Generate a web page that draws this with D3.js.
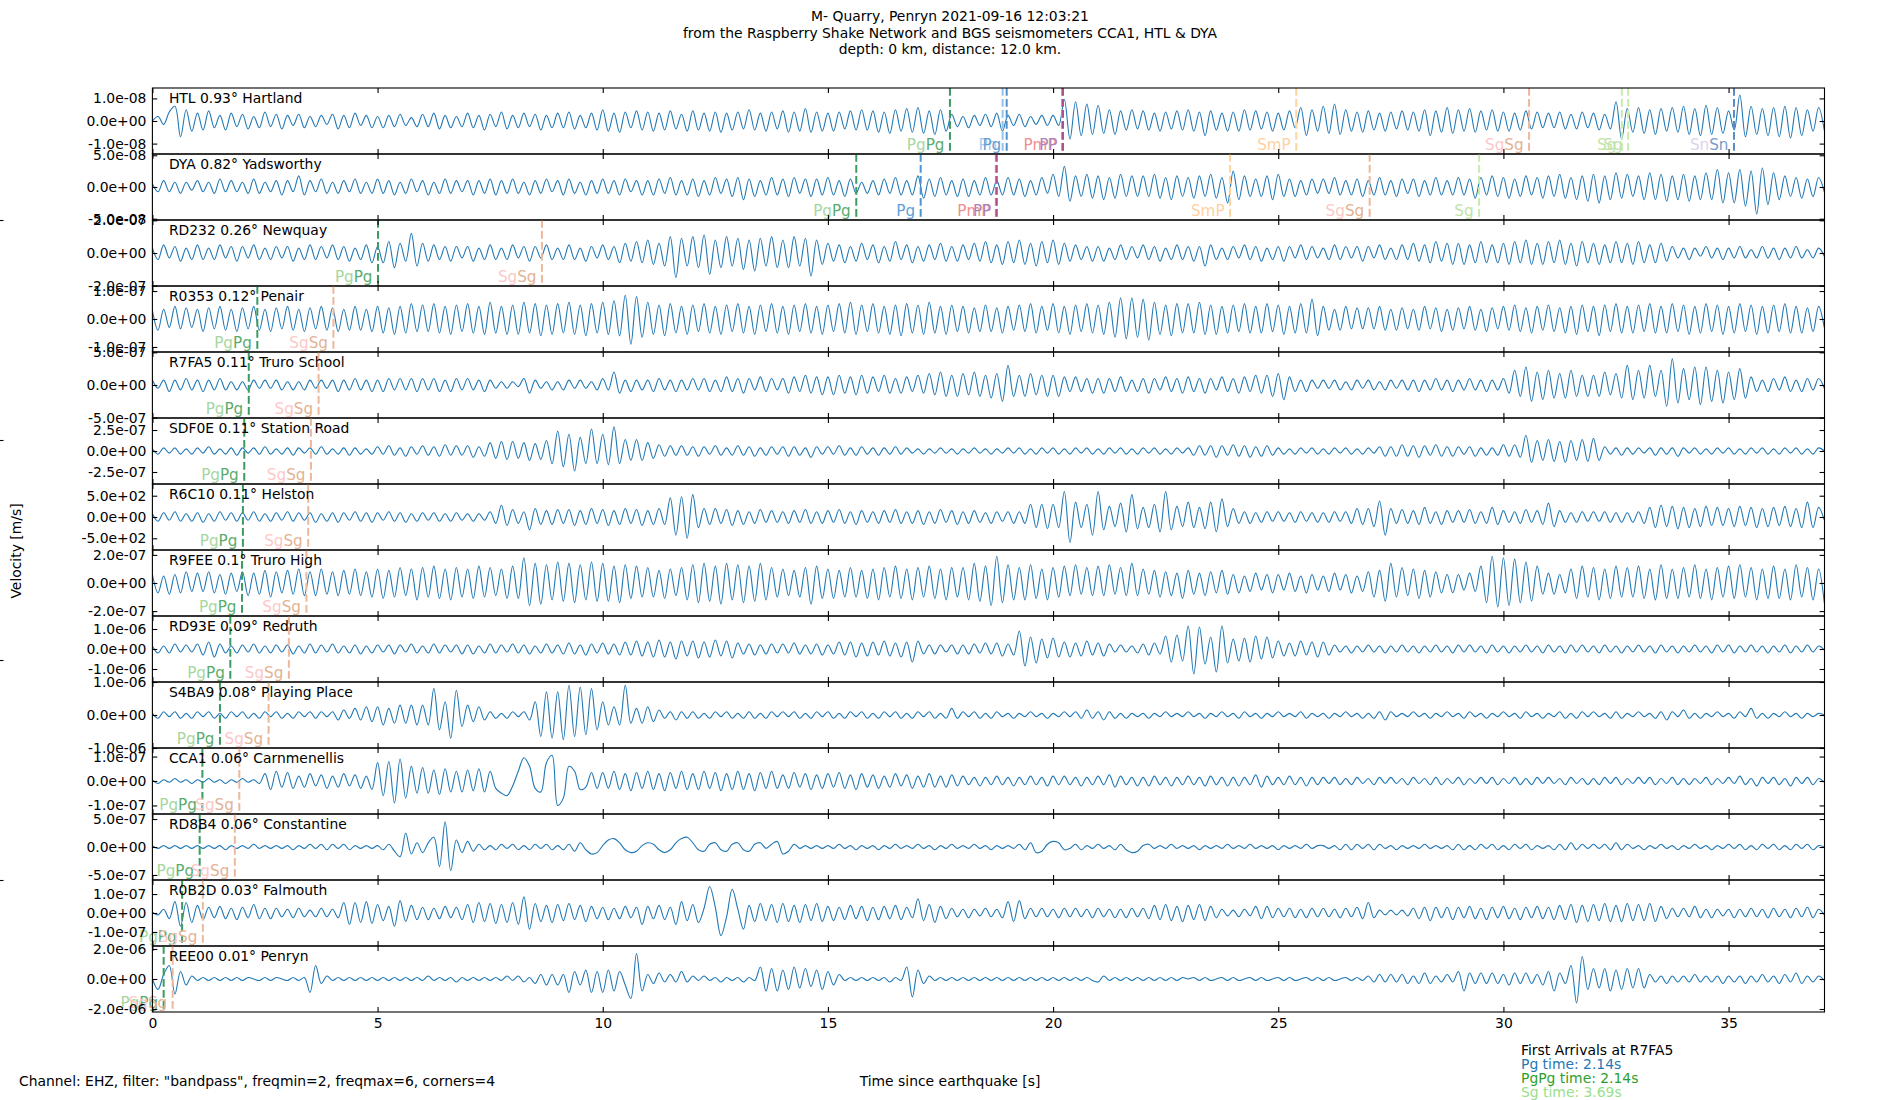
<!DOCTYPE html>
<html><head><meta charset="utf-8">
<script src="https://cdn.jsdelivr.net/npm/d3@7/dist/d3.min.js"></script>
<style>body{margin:0;background:#fff} text{font-family:"DejaVu Sans",sans-serif}</style>
</head><body><svg id="c" width="1900" height="1100"></svg>
<script>
// ---------------- DATA ----------------
const stations = ["HTL 0.93° Hartland","DYA 0.82° Yadsworthy","RD232 0.26° Newquay","R0353 0.12° Penair","R7FA5 0.11° Truro School","SDF0E 0.11° Station Road","R6C10 0.11° Helston","R9FEE 0.1° Truro High","RD93E 0.09° Redruth","S4BA9 0.08° Playing Place","CCA1 0.06° Carnmenellis","RD8B4 0.06° Constantine","R0B2D 0.03° Falmouth","REE00 0.01° Penryn"];
const tickVals = [1e-8,5e-8,2e-7,1e-7,5e-7,2.5e-7,5e2,2e-7,1e-6,1e-6,1e-7,5e-7,1e-7,2e-6];
const yLimits = [1.46e-8,5.2e-8,2.02e-7,1.18e-7,5.05e-7,3.93e-7,775,2.35e-7,1.65e-6,1.0e-6,1.35e-7,5.9e-7,1.74e-7,2.2e-6];
// trace samples are stored as integer counts; velocity = count * countUnit
const countUnit = [5e-10,2.5e-9,1e-8,5e-9,2.5e-8,1.25e-8,25,1e-8,5e-8,5e-8,5e-9,2.5e-8,5e-9,1e-7];
const sampleInterval = 0.125; // s
const xMax = 37.13;
const xTickVals = [0,5,10,15,20,25,30,35];

const trHTL = [0,4,-3,8,13,-14,10,-9, 7,-8,9,-6,5,-8,7,-5, 6,-7,4,-6,8,-5,6,-7, 5,-4,6,-6,4,-5,5,-3, 6,-7,5,-6,7,-4,5,-6, 4,-6,5,-5,6,-4,3,-5, 6,-5,7,-7,5,-6,4,-5, 7,-6,5,-8,6,-5,8,-7, 5,-6,7,-5,6,-8,5,-6, 7,-6,8,-7,5,-6,7,-8,
 10,-9,7,-10,8,-6,9,-8, 8,-9,7,-8,9,-7,6,-9, 9,-8,7,-9,8,-10,7,-8, 8,-7,10,-8,7,-9,8,-7, 9,-10,8,-9,11,-10,8,-9, 7,-9,8,-7,9,-8,10,-8, 9,-10,8,-11,10,-9,11,-10, 12,-11,9,-12,10,-9,6,-5, 4,-6,5,-4,6,-5,7,-9, 5,-4,6,-5,4,-3,5,-4,
 5,-4,19,-16,17,-13,15,-12, 14,-11,10,-12,9,-8,10,-7, 9,-8,7,-9,8,-7,9,-8, 10,-9,8,-13,9,-8,7,-9, 8,-9,10,-8,9,-7,8,-9, 7,-8,9,-6,12,-13,10,-9, 13,-11,15,-12,10,-9,8,-10, 9,-8,7,-9,8,-7,9,-8, 8,-9,10,-13,9,-10,12,-11, 10,-9,11,-10,9,-8,10,-9,
 8,-9,7,-8,9,-7,8,-6, 7,-6,8,-7,6,-7,8,-6, 7,-8,6,-7,17,-16,11,-10, 12,-11,10,-12,11,-9,12,-10, 13,-12,11,-13,14,-12,12,-11, 9,-8,23,-14,13,-12,11,-13, 12,-14,13,-15,12,-13,10,-9, 12,-8];
const trDYA = [2,-3,4,-3,3,-4,3,-2, 4,-3,3,-4,5,-3,4,-3, 3,-4,5,-4,3,-3,4,-5, 4,-3,7,-5,4,-3,5,-4, 3,-4,4,-3,5,-4,3,-4, 5,-4,4,-5,3,-4,5,-3, 4,-5,3,-4,5,-4,4,-3, 4,-5,4,-4,5,-5,4,-4, 5,-4,3,-5,4,-4,5,-3, 4,-5,5,-4,3,-5,4,-4,
 5,-4,4,-5,5,-3,4,-5, 4,-5,5,-4,6,-5,4,-5, 5,-6,4,-5,6,-4,5,-6, 6,-8,5,-6,4,-5,6,-5, 5,-6,6,-4,5,-6,5,-5, 6,-5,4,-6,5,-4,3,-4, 4,-5,5,-4,6,-5,4,-5, 7,-7,5,-6,6,-5,4,-6, 5,-6,4,-5,6,-5,4,-5, 6,-5,5,-6,4,-5,6,-4,
 8,-6,13,-9,7,-6,8,-7, 7,-8,6,-7,8,-6,7,-6, 7,-6,8,-7,6,-8,7,-6, 6,-7,7,-6,8,-7,6,-10, 10,-8,7,-6,5,-6,7,-8, 8,-6,5,-6,4,-5,5,-4, 5,-4,6,-5,4,-5,5,-6, 4,-5,6,-5,4,-6,5,-4, 5,-6,4,-5,6,-5,4,-5, 6,-5,5,-7,6,-5,7,-6,
 6,-7,5,-6,7,-5,6,-7, 7,-6,8,-7,6,-8,7,-9, 8,-10,7,-8,9,-7,8,-6, 7,-8,9,-8,8,-9,7,-8, 8,-9,7,-8,9,-8,11,-10, 9,-10,11,-12,10,-17,12,-11, 9,-8,7,-6,6,-7,5,-6, 6,-3];
const trRD232 = [3,-4,5,-3,4,-5,3,-4, 5,-4,3,-4,5,-3,4,-5, 4,-3,5,-4,3,-4,4,-3, 4,-5,3,-4,5,-4,4,-3, 5,-4,4,-5,3,-4,5,-6, 4,-6,7,-9,6,-5,12,-8, 6,-5,5,-4,4,-5,4,-3, 4,-5,3,-4,5,-4,3,-4, 5,-3,4,-5,4,-3,5,-4, 3,-4,5,-4,3,-5,4,-3,
 5,-4,4,-6,6,-5,7,-6, 8,-7,6,-8,10,-15,9,-8, 10,-9,11,-13,8,-9,10,-8, 9,-10,8,-11,9,-8,10,-9, 8,-9,10,-8,9,-14,8,-7, 6,-5,5,-6,4,-5,6,-4, 5,-6,4,-5,7,-4,5,-6, 4,-5,5,-4,6,-5,4,-5, 5,-4,6,-5,7,-6,5,-7, 7,-6,8,-7,6,-8,7,-6,
 8,-7,6,-5,5,-4,4,-5, 4,-5,3,-4,5,-4,4,-3, 5,-4,4,-5,3,-4,5,-4, 4,-5,4,-8,5,-4,3,-4, 4,-3,5,-4,4,-5,3,-4, 4,-5,4,-3,5,-4,4,-3, 3,-4,5,-4,4,-3,4,-5, 4,-3,5,-4,3,-4,5,-4, 6,-5,5,-6,7,-5,6,-7, 6,-7,5,-6,7,-6,5,-6,
 6,-7,7,-6,8,-7,6,-7, 7,-6,8,-7,6,-8,7,-6, 6,-7,5,-6,7,-6,6,-7, 7,-6,5,-6,6,-5,4,-3, 3,-4,3,-2,4,-3,3,-4, 3,-3,4,-3,2,-3,4,-3, 3,-4,3,-3,4,-3,2,-3, 3,-2];
const trR0353 = [6,-8,7,-6,9,-7,8,-6, 7,-9,8,-7,9,-8,7,-9, 8,-7,9,-8,7,-9,8,-7, 9,-8,7,-9,8,-7,9,-8, 8,-9,7,-8,9,-8,7,-9, 9,-10,8,-11,9,-10,11,-9, 10,-9,11,-10,9,-11,10,-9, 11,-10,9,-11,12,-10,9,-11, 10,-11,12,-10,11,-12,10,-11, 11,-10,12,-11,10,-12,11,-10,
 12,-11,13,-12,17,-18,16,-13, 12,-11,10,-12,11,-10,9,-11, 10,-9,11,-10,9,-11,10,-9, 11,-10,9,-11,10,-9,11,-10, 9,-11,10,-9,11,-10,9,-11, 10,-9,11,-10,12,-11,10,-9, 11,-10,9,-11,10,-12,11,-10, 10,-11,12,-10,9,-11,10,-9, 9,-10,8,-9,10,-9,8,-10, 9,-8,10,-9,11,-10,9,-8,
 11,-10,9,-11,10,-9,11,-10, 10,-11,12,-13,15,-14,15,-13, 14,-15,12,-11,10,-12,11,-10, 11,-10,12,-11,10,-11,9,-10, 10,-9,11,-10,9,-10,11,-9, 10,-11,9,-10,11,-10,14,-12, 9,-8,7,-8,9,-7,8,-7, 8,-7,9,-8,7,-8,8,-7, 7,-8,9,-7,8,-9,7,-8, 8,-7,9,-8,7,-9,8,-7,
 9,-8,10,-9,8,-10,9,-8, 10,-9,8,-10,9,-11,10,-9, 9,-12,10,-9,11,-10,9,-10, 10,-9,11,-10,9,-10,11,-9, 10,-11,9,-10,11,-9,10,-11, 9,-10,11,-9,10,-11,9,-10, 10,-9,11,-10,9,-10,8,-9, 9,-6];
const trR7FA5 = [3,-2,3,-4,3,-3,4,-3, 3,-4,3,-3,4,-3,2,-3, 2,-3,3,-2,3,-2,3,-3, 2,-3,2,-3,3,-2,3,-2, 3,-4,3,-3,4,-3,3,-4, 3,-4,4,-3,4,-3,4,-4, 4,-3,4,-4,3,-4,4,-3, 4,-3,3,-4,3,-2,2,-2, 2,-1,4,-5,3,-2,2,-3, 2,-3,3,-2,3,-2,2,-3,
 4,-3,8,-5,3,-4,3,-3, 3,-4,4,-3,3,-4,3,-3, 4,-3,4,-4,3,-4,5,-4, 4,-5,4,-3,5,-4,4,-3, 4,-5,5,-4,6,-5,5,-6, 5,-6,6,-5,5,-6,6,-5, 5,-4,6,-5,4,-5,5,-4, 6,-5,7,-6,8,-7,6,-7, 7,-6,8,-7,6,-8,7,-10, 12,-7,6,-7,7,-6,6,-7,
 6,-7,5,-4,5,-4,4,-5, 4,-5,4,-4,5,-4,3,-4, 4,-5,4,-3,5,-4,4,-5, 5,-4,4,-5,4,-3,5,-4, 4,-5,5,-4,6,-5,6,-7, 7,-9,5,-4,3,-4,3,-2, 3,-2,3,-3,2,-3,3,-2, 3,-3,2,-3,3,-2,3,-3, 3,-4,3,-3,4,-3,3,-4, 3,-3,4,-3,3,-4,3,-3,
 4,-5,9,-7,11,-10,8,-9, 9,-8,7,-8,9,-7,6,-7, 6,-7,8,-6,7,-8,12,-9, 9,-8,12,-7,9,-13,16,-11, 10,-9,11,-12,11,-10,9,-11, 8,-9,10,-8,5,-4,3,-4, 4,-3,5,-4,3,-4,4,-3, 4,-2];
const trSDF0E = [2,-3,3,-2,3,-3,2,-3, 3,-2,4,-3,2,-3,3,-4, 3,-2,3,-3,4,-3,2,-3, 3,-4,3,-2,3,-3,4,-3, 2,-3,3,-4,3,-3,2,-3, 4,-3,5,-4,3,-5,4,-3, 5,-4,4,-5,6,-4,5,-4, 5,-6,4,-5,8,-7,9,-8, 9,-7,8,-9,7,-8,10,-12, 19,-15,16,-19,13,-12,21,-12,
 16,-13,23,-12,11,-9,11,-9, 8,-7,6,-5,5,-4,5,-4, 4,-5,4,-3,5,-4,3,-4, 5,-4,4,-5,3,-4,4,-3, 4,-5,4,-4,3,-6,4,-3, 4,-3,5,-4,3,-4,4,-3, 3,-4,3,-3,4,-3,3,-2, 2,-3,2,-2,3,-2,2,-3, 2,-2,3,-2,2,-3,2,-2, 3,-2,3,-3,2,-3,3,-2,
 3,-3,2,-3,3,-2,3,-3, 2,-3,3,-2,3,-3,2,-3, 3,-2,3,-3,2,-3,3,-2, 3,-4,5,-4,5,-6,5,-4, 6,-5,5,-6,4,-5,5,-4, 3,-3,2,-3,3,-2,3,-3, 2,-3,3,-2,3,-3,2,-3, 3,-2,4,-5,4,-5,6,-5, 5,-6,5,-4,6,-5,4,-5, 4,-3,4,-5,3,-4,3,-4,
 6,-5,6,-6,15,-11,10,-9, 11,-10,9,-11,10,-9,11,-10, 12,-9,4,-3,3,-4,3,-3, 3,-2,3,-4,3,-3,3,-5, 3,-2,3,-3,2,-3,3,-2, 3,-3,2,-3,3,-2,3,-3, 2,-3,3,-2,3,-3,2,-3, 3,0];
const trR6C10 = [3,-4,4,-3,5,-4,3,-4, 4,-5,3,-4,5,-3,4,-4, 4,-3,5,-4,3,-4,4,-3, 5,-4,4,-3,4,-5,3,-4, 4,-5,4,-3,5,-4,4,-5, 4,-3,5,-4,4,-5,3,-4, 4,-3,4,-4,3,-4,4,-3, 3,-4,3,-3,5,-6,11,-8, 7,-6,5,-12,8,-7,6,-7, 7,-6,7,-8,6,-7,8,-6,
 7,-8,6,-7,8,-6,7,-8, 6,-7,8,-7,18,-17,19,-20, 21,-10,8,-7,8,-6,7,-8, 6,-7,5,-6,7,-5,6,-5, 5,-6,6,-5,7,-6,5,-6, 6,-5,7,-6,5,-7,6,-5, 5,-6,6,-5,7,-6,5,-6, 6,-7,5,-6,7,-5,6,-7, 5,-6,6,-5,4,-6,5,-4, 5,-6,5,-6,12,-10,12,-11,
 12,-10,24,-24,14,-10,12,-17, 24,-12,10,-9,13,-14,21,-11, 9,-10,12,-14,24,-12,10,-9, 14,-10,9,-11,14,-14,17,-9, 8,-6,5,-6,4,-5,5,-4, 5,-4,4,-5,5,-4,4,-5, 4,-5,5,-4,5,-6,8,-7, 8,-9,15,-17,8,-6,7,-6, 6,-7,9,-6,5,-7,6,-5, 6,-5,7,-6,5,-6,9,-7,
 6,-5,5,-6,7,-5,6,-7, 13,-9,6,-5,4,-5,5,-4, 5,-4,5,-5,4,-5,4,-5, 5,-6,9,-10,11,-9,10,-11, 9,-10,8,-9,10,-8,9,-8, 8,-9,10,-8,9,-10,8,-9, 9,-8,10,-9,8,-10,14,-10, 9,-3];
const trR9FEE = [6,-7,5,-8,6,-7,8,-6, 7,-6,8,-7,6,-8,7,-6, 8,-9,7,-8,9,-10,8,-7, 9,-8,10,-9,8,-9,10,-8, 8,-9,9,-8,10,-9,8,-10, 10,-11,9,-10,11,-9,10,-12, 11,-10,12,-11,10,-12,11,-10, 10,-11,12,-10,11,-9,10,-11, 12,-11,18,-16,14,-15,13,-12, 15,-13,14,-14,13,-12,15,-13,
 14,-13,12,-14,13,-11,12,-10, 11,-10,9,-11,10,-9,11,-12, 13,-14,14,-13,12,-15,14,-12, 13,-14,12,-13,14,-12,11,-10, 10,-9,9,-10,11,-15,12,-11, 10,-11,9,-10,11,-10,9,-11, 10,-12,11,-10,12,-11,10,-12, 11,-10,12,-11,10,-12,11,-10, 11,-12,14,-13,12,-16,19,-14, 13,-12,11,-12,13,-11,10,-12,
 11,-10,12,-9,13,-8,11,-9, 12,-9,13,-8,11,-9,14,-9, 10,-8,9,-10,8,-9,7,-11, 9,-8,7,-9,8,-7,9,-8, 6,-7,5,-6,7,-5,6,-7, 6,-5,7,-6,5,-7,6,-5, 5,-6,7,-5,6,-7,5,-6, 8,-10,9,-13,14,-10,11,-9, 10,-11,9,-10,8,-7,6,-7, 6,-5,7,-6,12,-14,19,-17,
 18,-16,17,-14,15,-13,12,-8, 7,-8,6,-7,10,-11,12,-10, 11,-12,10,-11,12,-10,11,-10, 12,-11,10,-12,13,-11,10,-11, 11,-10,13,-11,10,-12,11,-10, 12,-11,13,-10,11,-12,10,-11, 12,-11,10,-12,13,-10,11,-12, 10,-14];
const trRD93E = [3,-4,3,-4,5,-3,4,-3, 5,-6,7,-8,5,-4,3,-4, 4,-3,5,-4,3,-4,4,-3, 4,-5,3,-4,5,-4,4,-3, 5,-4,3,-4,4,-5,3,-4, 4,-3,4,-5,4,-3,5,-4, 3,-4,5,-4,4,-3,4,-5, 4,-5,3,-4,5,-4,4,-3, 5,-4,4,-5,3,-4,5,-4, 4,-5,6,-5,4,-6,5,-4,
 6,-5,5,-6,7,-6,8,-7, 7,-8,9,-8,7,-10,8,-7, 8,-9,7,-8,9,-7,8,-9, 6,-5,5,-6,4,-5,5,-4, 5,-4,6,-5,4,-5,5,-6, 4,-5,7,-6,7,-8,6,-7, 7,-6,8,-7,6,-8,7,-13, 8,-5,4,-5,4,-3,4,-5, 4,-5,5,-4,6,-5,6,-7, 5,-6,18,-17,12,-14,10,-9,
 11,-8,7,-8,6,-7,8,-6, 6,-7,5,-3,4,-3,3,-4, 5,-6,6,-5,13,-13,14,-12, 23,-25,22,-15,12,-23,23,-14, 10,-12,11,-13,13,-10,12,-9, 8,-7,6,-7,8,-6,7,-8, 7,-6,4,-3,3,-4,3,-3, 4,-3,3,-4,3,-3,4,-3, 3,-4,3,-3,4,-3,3,-4, 4,-3,4,-3,3,-4,4,-3,
 3,-4,3,-3,4,-3,3,-4, 4,-3,3,-4,4,-3,4,-3, 3,-4,4,-3,3,-4,3,-3, 4,-3,3,-4,4,-3,3,-4, 3,-3,4,-3,3,-4,4,-3, 4,-4,3,-3,4,-3,3,-4, 3,-3,4,-4,3,-3,4,-3, 3,-1];
const trS4BA9 = [1,-2,2,-1,2,-2,1,-2, 2,-1,2,-2,1,-2,2,-1, 2,-2,1,-2,2,-1,2,-2, 1,-2,2,-1,2,-2,2,-1, 2,-3,3,-2,4,-3,5,-4, 5,-6,4,-5,6,-5,6,-6, 6,-6,16,-9,8,-14,15,-7, 6,-4,5,-3,2,-2,1,-2, 2,-1,2,-3,8,-13,14,-14, 14,-15,18,-13,17,-12,16,-9,
 8,-6,5,-6,18,-5,4,-5, 5,-4,3,-2,2,-3,2,-2, 2,-2,1,-2,2,-1,2,-2, 1,-2,2,-2,1,-2,2,-1, 2,-1,2,-2,1,-2,2,-1, 2,-2,1,-2,2,-1,2,-2, 1,-2,2,-1,2,-2,1,-2, 2,-1,2,-2,1,-2,4,-2, 2,-1,2,-2,1,-2,2,-1, 1,-2,1,-1,2,-1,1,-2,
 1,-1,2,-1,2,-2,3,-2, 2,-3,2,-2,1,-2,1,-1, 1,-2,1,-1,2,-1,1,-1, 2,-1,1,-2,1,-1,2,-1, 1,-2,2,-1,1,-2,1,-1, 2,-1,1,-1,2,-2,1,-1, 1,-2,1,-1,2,-1,1,-2, 1,-2,2,-3,2,-1,1,-1, 2,-1,1,-2,1,-1,2,-1, 1,-2,2,-1,1,-2,1,-1,
 2,-1,1,-2,2,-1,1,-2, 1,-1,2,-2,1,-2,2,-1, 2,-1,1,-2,2,-2,1,-1, 2,-1,1,-2,2,-3,2,-1, 3,-2,1,-2,1,-1,2,-1, 1,-2,2,-1,4,-2,1,-2, 1,-1,2,-1,1,-2,1,-1, 1,0];
const trCCA1 = [1,-2,1,-1,2,-1,1,-2, 1,-1,2,-1,1,-2,1,-1, 2,-1,1,-2,6,-7,8,-5, 7,-6,4,-5,6,-4,5,-6, 4,-5,6,-4,5,-6,4,-7, 15,-12,16,-18,18,-14,12,-10, 11,-10,9,-11,10,-9,8,-9, 9,-8,10,-9,8,-6,-10,-12, -4,8,19,12,-6,-9,15,21, -20,-14,12,8,-7,-5,7,-6,
 7,-6,8,-7,6,-8,7,-6, 8,-7,6,-8,7,-6,8,-7, 6,-7,8,-6,7,-8,6,-7, 8,-7,6,-8,7,-6,8,-6, 5,-6,7,-5,6,-7,5,-6, 6,-5,7,-6,5,-7,6,-5, 5,-6,4,-5,6,-4,5,-6, 4,-5,6,-5,4,-5,5,-4, 4,-3,3,-4,3,-3,4,-3, 3,-4,3,-3,4,-3,3,-4,
 4,-3,4,-3,3,-4,3,-3, 4,-3,5,-5,4,-3,3,-4, 3,-4,4,-3,3,-4,3,-3, 4,-3,3,-4,4,-3,3,-4, 3,-4,3,-3,5,-5,4,-3, 3,-3,4,-3,3,-4,3,-3, 3,-2,3,-3,2,-3,3,-2, 2,-3,3,-2,3,-2,2,-3, 3,-2,2,-3,3,-3,2,-2, 3,-3,2,-2,3,-2,3,-3,
 2,-2,3,-3,2,-3,3,-2, 3,-2,2,-3,3,-2,2,-3, 2,-3,3,-2,3,-3,2,-2, 3,-2,3,-3,2,-2,3,-3, 2,-3,2,-2,3,-3,2,-2, 3,-2,4,-3,2,-4,3,-2, 3,-3,2,-4,3,-2,3,-3, 2,-1];
const trRD8B4 = [1,-1,1,-1,1,-1,1,-1, 1,-1,1,-1,1,-2,1,-1, 1,-1,2,-1,1,-1,1,-1, 1,-2,1,-1,2,-1,2,-2, 2,-1,2,-2,1,-1,1,-1, 1,-2,2,-3,-7,10,-5,3, -4,3,7,-14,18,-17,5,-4, 4,-3,2,-2,1,-2,2,-1, 2,-2,1,-2,2,-1,2,-2, 1,-2,2,-3,3,-2,-5,-4,
 1,5,6,3,-2,-4,-3,1, 3,2,-2,-4,-2,3,6,7, 3,-2,-3,2,3,-2,-3,2, 3,-2,-3,2,3,-1,2,4, -5,-3,2,-1,1,-1,1,-1, 1,-1,2,-1,1,-2,1,-1, 1,-2,1,-1,2,-1,1,-1, 2,-1,1,-2,1,-1,2,-1, 1,-1,2,-1,1,-2,1,-1, 1,-1,2,-2,3,-4,-3,2,
 4,3,-2,-1,2,-2,1,-1, 2,-1,1,-2,2,-2,-4,-3, 1,2,-1,1,-1,2,-1,1, -1,1,-2,1,-1,1,-1,2, -1,1,-1,2,-1,1,-1,1, -2,1,-1,1,-1,2,-1,1, 1,-1,1,-2,2,-2,2,-1, 2,-2,2,-1,1,-2,1,-1, 1,-1,2,-1,1,-1,1,-2, 2,-2,1,-2,2,-1,2,-2,
 1,-2,2,-1,2,-2,1,-1, 1,-2,2,-2,3,-2,2,-1, 2,-1,2,-2,3,-2,2,-1, 1,-2,1,-1,2,-1,1,-2, 1,-1,2,-1,1,-2,1,-1, 2,-1,2,-2,1,-2,2,-1, 2,-2,1,-2,2,-1,2,-2, 1,0];
const trR0B2D = [1,-2,4,-6,12,-14,11,-10, 8,-7,6,-5,7,-6,5,-7, 6,-5,9,-6,5,-6,5,-4, 4,-5,5,-4,3,-4,5,-4, 4,-5,11,-12,11,-10,12,-11, 9,-8,7,-14,13,-9,8,-7, 6,-7,5,-6,7,-5,6,-7, 9,-10,11,-9,10,-11,9,-10, 11,-12,17,-17,10,-9,8,-10, 9,-8,10,-7,8,-9,7,-6,
 6,-7,5,-6,7,-5,6,-12, 7,-6,8,-7,6,-12,12,-8, 9,-10,5,28,6,-24,-4,25, 4,-17,8,-9,10,-8,9,-10, 10,-9,8,-10,9,-8,10,-9, 7,-8,6,-7,8,-6,7,-8, 6,-7,7,-6,8,-7,6,-5, 15,-8,9,-10,7,-6,5,-4, 4,-5,4,-3,5,-4,4,-5, 12,-9,13,-6,5,-4,5,-4,
 4,-5,5,-4,5,-4,4,-5, 5,-4,4,-5,4,-5,5,-4, 5,-6,8,-7,9,-8,7,-9, 8,-7,9,-8,7,-5,4,-3, 3,-4,4,-3,7,-6,7,-5, 5,-4,5,-5,4,-5,5,-4, 5,-4,4,-5,5,-4,6,-6, 11,-5,3,-2,3,-2,3,-3, 5,-6,6,-8,6,-5,6,-7, 6,-5,7,-6,5,-7,6,-5,
 7,-6,5,-7,6,-5,7,-6, 6,-7,8,-7,9,-10,8,-9, 9,-8,10,-9,8,-9,10,-8, 9,-8,10,-9,7,-6,5,-4, 5,-4,7,-5,4,-5,4,-3, 4,-5,4,-4,5,-4,4,-5, 5,-4,4,-5,5,-4,6,-5, 4,-2];
const trREE00 = [0,-7,3,9,-10,5,-4,2, -1,1,-1,1,-1,1,-1,1, -1,1,0,-1,1,-1,1,0, -1,1,-1,1,-9,9,-3,2, -1,1,-1,1,-1,1,-1,1, -1,1,-1,1,-1,1,-1,1, -1,2,-1,1,-1,1,-2,1, -1,1,-1,1,-1,1,-1,2, -1,2,-2,1,-3,3,-4,3, -4,3,-9,5,-4,6,-9,5,
 -9,6,-8,5,-4,-13,17,-8, 3,-3,4,-2,3,-2,5,-2, 2,-1,2,-1,1,-2,1,-1, 1,-2,1,-1,8,-8,7,-8, 6,-7,8,-6,7,-5,6,-7, 5,-4,3,-1,1,-1,1,-1, 1,-1,1,-2,1,-1,8,-12, 6,-3,2,-1,1,-1,1,-1, 1,-1,1,-1,1,-1,1,-1, 1,-1,1,-1,1,-1,1,-1,
 1,-1,1,-1,1,-1,1,-1, -2,2,-1,1,-1,1,-1,1, -1,1,-1,1,-1,1,-1,1, 0,1,-1,1,-1,0,1,-1, 1,-1,0,1,-1,1,-1,0, 1,-1,1,-1,0,1,-1,1, -1,1,-1,0,1,-1,1,-1, 2,-2,3,-2,3,-2,3,-3, 2,-3,4,-3,2,-2,3,-2, 5,-8,4,-3,4,-3,4,-3,
 3,-4,4,-3,4,-3,3,-4, 5,-8,4,-3,9,-16,15,-7, 7,-6,7,-8,6,-7,7,-6, 7,-6,3,-2,2,-3,2,-2, 2,-2,3,-2,2,-2,2,-3, 2,-2,2,-3,2,-2,3,-2, 2,-3,3,-2,4,-3,2,-2, 2,-1];
const traces = [trHTL,trDYA,trRD232,trR0353,trR7FA5,trSDF0E,trR6C10,trR9FEE,trRD93E,trS4BA9,trCCA1,trRD8B4,trR0B2D,trREE00];

// phase arrivals (seconds since origin) per trace
const phaseNames = [
 ["PgPg","Pn","Pg","PmP","PP","SmP","SgSg","Sg","Sg","SnSn"],
 ["PgPg","Pg","PmP","PP","SmP","SgSg","Sg"],
 ["PgPg","SgSg"],["PgPg","SgSg"],["PgPg","SgSg"],["PgPg","SgSg"],["PgPg","SgSg"],
 ["PgPg","SgSg"],["PgPg","SgSg"],["PgPg","SgSg"],["PgPg","SgSg"],["PgPg","SgSg"],["PgPg","SgSg"],["PgPg","SgSg"]];
const phaseTimes = [
 [17.71,18.88,18.97,20.20,20.22,25.40,30.57,32.63,32.77,35.12],
 [15.63,17.06,18.73,18.75,23.93,27.03,29.46],
 [5.01,8.65],[2.33,4.02],[2.14,3.69],[2.04,3.52],[2.01,3.46],
 [1.99,3.42],[1.73,3.03],[1.50,2.58],[1.11,1.93],[1.05,1.83],[0.66,1.12],[0.25,0.45]];

const titleLines = ["M- Quarry, Penryn 2021-09-16 12:03:21","from the Raspberry Shake Network and BGS seismometers CCA1, HTL & DYA","depth: 0 km, distance: 12.0 km."];
const arrivalLines = [["First Arrivals at R7FA5","#000000"],["Pg time: 2.14s","#1f77b4"],["PgPg time: 2.14s","#2ca02c"],["Sg time: 3.69s","#98df8a"]];

// ---------------- STYLE ----------------
const phaseStyle = {
 PgPg:{line:"#3b9b62", parts:[["Pg","#a6d7a0"],["Pg","#5aab6c"]]},
 SgSg:{line:"#ecb89c", parts:[["Sg","#fdc8c8"],["Sg","#e3b294"]]},
 Pg:{line:"#4f93d1", parts:[["Pg","#629fd6"]]},
 Pn:{line:"#96c1e7", parts:[["Pn","#a9cbea"]]},
 PmP:{line:"#e7858b", parts:[["PmP","#f28e8e"]]},
 PP:{line:"#ae4f8e", parts:[["PP","#ae82bb"]]},
 SmP:{line:"#ffd39c", parts:[["SmP","#ffd19e"]]},
 Sg:{line:"#c8eaae", parts:[["Sg","#c0e4a8"]]},
 SnSn:{line:"#5e89c4", parts:[["Sn","#ddd3eb"],["Sn","#7c99c8"]]}
};
const W=1900,H=1100, L=152.4, R=1824.5, T=88, B=1012, FS=13.9, PFS=15.2, FONT='"DejaVu Sans", sans-serif';
const svg = d3.select("#c");
const nT = stations.length, rowH = (B-T)/nT;
const x = d3.scaleLinear().domain([0,xMax]).range([L,R]);

function fmt(v){
  if(v===0) return "0.0e+00";
  const e = Math.floor(Math.log10(Math.abs(v))+1e-9);
  const m = v/Math.pow(10,e);
  return m.toFixed(1)+"e"+(e<0?"-":"+")+String(Math.abs(e)).padStart(2,"0");
}
function styleAxis(g){
  g.attr("font-size",FS).attr("font-family",FONT);
  g.select(".domain").remove();
  g.selectAll(".tick line").attr("stroke","#000").attr("stroke-width",1.1);
  g.selectAll(".tick text").attr("fill","#000");
}
const defs = svg.append("defs");

for(let k=0;k<nT;k++){
  const top = T + k*rowH, bot = top + rowH;
  const y = d3.scaleLinear().domain([-yLimits[k], yLimits[k]]).range([bot, top]);
  const g = svg.append("g");
  defs.append("clipPath").attr("id","clip"+k).append("rect")
    .attr("x",L).attr("y",top).attr("width",R-L).attr("height",rowH);
  const line = d3.line()
    .x((d,i)=>x(i*sampleInterval))
    .y(d=>y(d*countUnit[k]))
    .curve(d3.curveCatmullRom.alpha(0.5));
  g.append("path").datum(traces[k]).attr("d",line)
    .attr("fill","none").attr("stroke","#1f77b4").attr("stroke-width",1.1)
    .attr("stroke-linejoin","round").attr("clip-path",`url(#clip${k})`);
  // phase lines
  phaseTimes[k].forEach((t,j)=>{
    const st = phaseStyle[phaseNames[k][j]];
    g.append("line").attr("x1",x(t)).attr("x2",x(t)).attr("y1",top).attr("y2",bot)
      .attr("stroke",st.line).attr("stroke-width",2).attr("stroke-dasharray","7.7,3.3");
  });
  phaseTimes[k].forEach((t,j)=>{
    const st = phaseStyle[phaseNames[k][j]];
    const tx = g.append("text").attr("x",x(t)-5.5).attr("y",bot-4)
      .attr("text-anchor","end").attr("font-size",PFS).attr("font-family",FONT);
    st.parts.forEach(p=>tx.append("tspan").text(p[0]).attr("fill",p[1]));
  });
  // frame
  g.append("rect").attr("x",L).attr("y",top).attr("width",R-L).attr("height",rowH)
    .attr("fill","none").attr("stroke","#000").attr("stroke-width",1.1);
  // axes
  const yt = [-tickVals[k],0,tickVals[k]];
  g.append("g").attr("transform",`translate(${L},0)`)
    .call(d3.axisLeft(y).tickValues(yt).tickFormat(fmt).tickSize(-4.9).tickPadding(6)).call(styleAxis);
  g.append("g").attr("transform",`translate(${R},0)`)
    .call(d3.axisRight(y).tickValues(yt).tickFormat("").tickSize(-4.9)).call(styleAxis);
  g.append("g").attr("transform",`translate(0,${top})`)
    .call(d3.axisTop(x).tickValues(xTickVals).tickFormat("").tickSize(-4.9)).call(styleAxis);
  const xb = d3.axisBottom(x).tickValues(xTickVals).tickSize(-4.9).tickPadding(6);
  if(k<nT-1) xb.tickFormat("");
  g.append("g").attr("transform",`translate(0,${bot})`).call(xb).call(styleAxis);
  // station label
  g.append("text").attr("x",L+16.5).attr("y",top+14.5).attr("font-size",FS)
    .attr("font-family",FONT).attr("fill","#000").text(stations[k]);
}

// figure-level (frameless) axis ticks at the left edge
const fy = d3.scaleLinear().domain([0,1]).range([H,0]);
svg.append("g").call(d3.axisRight(fy).tickValues([0.2,0.4,0.6,0.8]).tickFormat("").tickSize(3.5)).call(styleAxis);

// title
titleLines.forEach((s,i)=>svg.append("text").attr("x",W/2).attr("y",21+i*16.6)
  .attr("text-anchor","middle").attr("font-size",FS).attr("fill","#000").text(s));
// labels
svg.append("text").attr("transform","translate(21,551) rotate(-90)").attr("text-anchor","middle")
  .attr("font-size",FS).attr("fill","#000").text("Velocity [m/s]");
svg.append("text").attr("x",W/2).attr("y",1086).attr("text-anchor","middle")
  .attr("font-size",FS).attr("fill","#000").text("Time since earthquake [s]");
svg.append("text").attr("x",19).attr("y",1086).attr("font-size",FS).attr("fill","#000")
  .text('Channel: EHZ, filter: "bandpass", freqmin=2, freqmax=6, corners=4');
arrivalLines.forEach((a,i)=>svg.append("text").attr("x",1521).attr("y",1055+i*14)
  .attr("font-size",FS).attr("fill",a[1]).text(a[0]));
</script></body></html>
